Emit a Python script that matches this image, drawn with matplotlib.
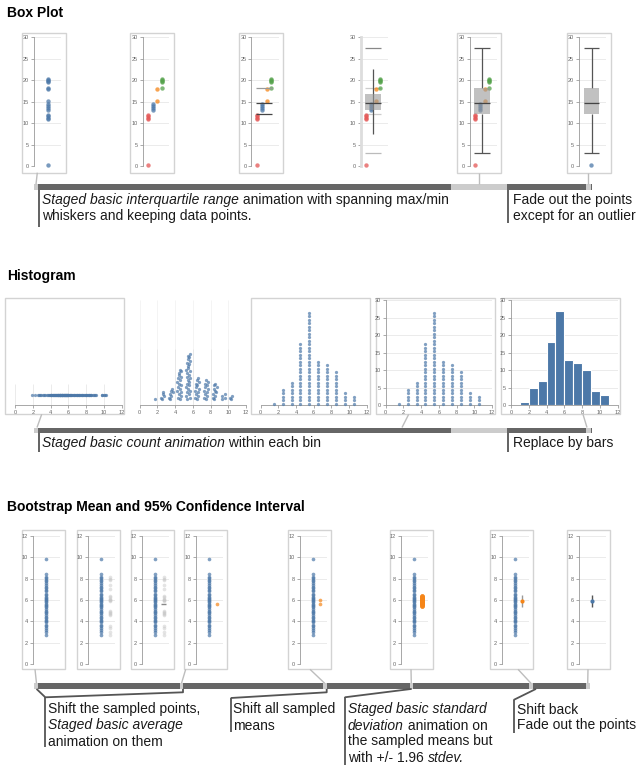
import matplotlib
matplotlib.use('Agg')
import matplotlib.pyplot as plt
from matplotlib.patches import Rectangle
import numpy as np

plt.rcParams['font.family'] = ['Liberation Sans', 'DejaVu Sans']

W, H = 638, 765

# ---------------- data ----------------
# box plot: points per group
box_red = [0.3, 11.0, 11.3, 11.6, 11.9]
box_blue = [13.0, 13.5, 14.0, 14.4]
box_orange = [15.2, 18.0]
box_green = [18.3, 19.5, 19.8, 20.0, 20.2]
box_q1, box_med, box_q3 = 12.1, 14.7, 18.3
box_lo, box_hi = 3.0, 27.5
box_mid_q = (13.2, 16.8)        # box half way through the animation
box_mid_whisk = (7.5, 22.7)

# histogram: raw values, grouped per bin (order as sampled)
hist_values = (
    [1.9]
    + [2.6, 2.3, 2.95, 2.75, 2.8]
    + [3.4, 3.1, 3.7, 3.3, 3.95, 3.55, 3.8]
    + [4.55, 4.1, 4.9, 4.3, 4.75, 4.0, 4.6, 4.2, 4.85, 4.4, 4.05, 4.7, 4.25, 4.95, 4.5, 4.35, 4.8, 4.65]
    + [5.3, 5.8, 5.05, 5.55, 5.2, 5.9, 5.45, 5.0, 5.65, 5.12, 5.75, 5.35, 5.95, 5.1, 5.6, 5.25, 5.85,
       5.02, 5.5, 5.4, 5.7, 5.15, 5.98, 5.32, 5.62, 5.52, 5.82]
    + [6.4, 6.1, 6.75, 6.2, 6.6, 6.0, 6.85, 6.3, 6.5, 6.15, 6.95, 6.35, 6.65]
    + [7.45, 7.1, 7.8, 7.25, 7.6, 7.0, 7.95, 7.35, 7.7, 7.2, 7.85, 7.5]
    + [8.3, 8.0, 8.6, 8.1, 8.75, 8.45, 8.2, 8.9, 8.35, 8.55]
    + [9.1, 9.85, 9.0, 9.75]
    + [10.15, 10.0, 10.3]
)
hist_edges = [1, 2, 3, 4, 5, 6, 7, 8, 9, 10, 11]

# bootstrap
boot_sample = [5.2, 7.4, 3.6, 6.1, 8.4, 4.4, 5.8, 2.7, 6.6, 4.9, 7.9, 3.2, 5.5, 6.9, 4.1, 9.8,
               5.0, 7.1, 3.9, 6.3, 4.6, 8.1, 5.6, 3.4, 6.0, 7.6, 4.3, 5.3, 6.8, 3.0, 7.8, 4.8,
               6.2, 5.9, 3.7, 8.2, 4.0, 6.5, 5.4, 7.2]
boot_resample = [8.2, 4.9, 6.0, 3.0, 7.4, 4.6, 6.1, 2.7, 5.0, 7.9, 4.8, 6.0, 3.4, 5.9, 7.0,
                 6.4, 6.3, 3.6, 8.0, 4.7]
boot_means = [5.6, 6.0, 5.85, 6.15, 5.7, 5.95, 6.3, 5.45, 6.05, 5.9, 5.75, 6.2, 5.4, 6.4,
              5.8, 6.1, 5.95, 5.55, 6.25, 5.85, 5.65, 6.0, 5.9, 6.35, 5.75]

BLUE, ORANGE, RED, GREEN = '#4c78a8', '#f58518', '#e45756', '#54a24b'
DARK, LIGHT, CONN, ANN = '#666666', '#cccccc', '#bdbdbd', '#555555'
TXT = 10

fig = plt.figure(figsize=(W / 100, H / 100), dpi=100)
fig.patch.set_facecolor('white')
ov = fig.add_axes([0, 0, 1, 1])
ov.set_xlim(0, W)
ov.set_ylim(H, 0)
ov.axis('off')
renderer = fig.canvas.get_renderer()


def px_axes(x0, y0, x1, y1):
    ax = fig.add_axes([x0 / W, 1 - y1 / H, (x1 - x0) / W, (y1 - y0) / H])
    ax.set_facecolor('none')
    for s in ax.spines.values():
        s.set_visible(False)
    ax.tick_params(labelsize=4, length=2.5, width=0.5, color='#888888',
                   labelcolor='#666666', pad=1)
    ax.set_xticks([])
    ax.set_yticks([])
    return ax


def frame(x, y, w, h):
    ov.add_patch(Rectangle((x, y), w, h, fill=False, ec='#d3d3d3', lw=1.0))


def yaxis(ax, ticks, color='#999999', lw=0.6, grid=True):
    ax.spines['left'].set_visible(True)
    ax.spines['left'].set_color(color)
    ax.spines['left'].set_linewidth(lw)
    ax.set_yticks(ticks)
    if grid:
        for t in ticks:
            ax.axhline(t, color='#e8e8e8', lw=0.6, zorder=0)


def xaxis(ax, ticks):
    ax.spines['bottom'].set_visible(True)
    ax.spines['bottom'].set_color('#999999')
    ax.spines['bottom'].set_linewidth(0.6)
    ax.set_xticks(ticks)


def rich(x, y, parts, size=TXT):
    for s, st in parts:
        t = ov.text(x, y, s, fontsize=size, style=st, va='baseline', ha='left', color='#1a1a1a')
        x += t.get_window_extent(renderer).width


def line(xs, ys, color=ANN, lw=1.0):
    ov.plot(xs, ys, color=color, lw=lw, solid_capstyle='butt')


def bar(y, segs, h=5.6):
    for x0, x1, c in segs:
        ov.add_patch(Rectangle((x0, y), x1 - x0, h, fc=c, ec='none'))


# ---------------- Box plot ----------------
ov.text(7, 16.5, 'Box Plot', fontsize=10, weight='bold', va='baseline')
box_frames = [21.5, 130, 239, 348, 457, 566.5]
groups = [(box_red, RED, 5.5), (box_blue, BLUE, 10.3), (box_orange, ORANGE, 15.0),
          (box_green, GREEN, 19.7)]
BOX_L, BOX_R, BOX_C = 4.7, 20.3, 12.5
bax = []
for i, fl in enumerate(box_frames):
    if i != 3:
        frame(fl, 33.3, 44, 139.4)
    ax = px_axes(fl + 12.5, 37.3, fl + 39.5, 166.3)
    ax.set_xlim(0, 27)
    ax.set_ylim(0, 30)
    if i == 3:
        yaxis(ax, range(0, 31, 5), color='#dddddd', lw=2.0)
    else:
        yaxis(ax, range(0, 31, 5))
    bax.append(ax)

pts = dict(s=10, lw=0, alpha=0.75, clip_on=False, zorder=3)
all_box = box_red + box_blue + box_orange + box_green
bax[0].scatter([13.5] * len(all_box), all_box, color=BLUE, **pts)
for ax in bax[1:5]:
    for vals, col, gx in groups:
        ax.scatter([gx] * len(vals), vals, color=col, **pts)

# panel 3: quartile lines
for v, c in [(box_q3, '#999999'), (box_med, '#444444'), (box_q1, '#444444')]:
    bax[2].hlines(v, BOX_L, BOX_R, color=c, lw=0.9, zorder=4)

# panel 4: growing box
ax = bax[3]
for v, c in [(box_hi, '#888888'), (box_q3, '#cccccc'), (box_q1, '#cccccc'), (box_lo, '#bbbbbb')]:
    ax.hlines(v, BOX_L, BOX_R, color=c, lw=0.9, zorder=2)
ax.vlines(BOX_C, box_mid_whisk[0], box_mid_whisk[1], color='#555555', lw=0.9, zorder=4)
ax.bar(BOX_C, box_mid_q[1] - box_mid_q[0], bottom=box_mid_q[0], width=BOX_R - BOX_L,
       color='#999999', alpha=0.6, zorder=5)
ax.hlines(box_med, BOX_L, BOX_R, color='#444444', lw=0.9, zorder=6)

# panels 5, 6: full box plot
for ax in bax[4:]:
    ax.bar(BOX_C, box_q3 - box_q1, bottom=box_q1, width=BOX_R - BOX_L,
           color='#999999', alpha=0.6, zorder=5)
    ax.hlines(box_med, BOX_L, BOX_R, color='#444444', lw=0.9, zorder=6)
    ax.vlines(BOX_C, box_q3, box_hi, color='#555555', lw=0.9, zorder=4)
    ax.vlines(BOX_C, box_lo, box_q1, color='#555555', lw=0.9, zorder=4)
    ax.hlines([box_lo, box_hi], BOX_L, BOX_R, color='#555555', lw=0.9, zorder=4)
bax[5].scatter([12.0], [min(box_red)], color=BLUE, **pts)

bar(184.3, [(34.3, 37.7, LIGHT), (37.7, 451, DARK), (451, 507, LIGHT), (507, 586.3, DARK),
            (586.3, 590.7, LIGHT), (590.7, 592, DARK)])
line([37.3, 36], [172.7, 184.3], CONN)
line([479.3, 479.3], [172.7, 184.3], CONN)
line([588.3, 588.3], [172.7, 184.3], CONN)
line([39.3, 39.3], [189.9, 227], ANN, 1.3)
line([508.2, 508.2], [189.9, 223], ANN, 1.3)
rich(42, 204, [('Staged basic interquartile range', 'italic'),
               (' animation with spanning max/min', 'normal')])
rich(42, 219.5, [('whiskers and keeping data points.', 'normal')])
rich(513, 204, [('Fade out the points', 'normal')])
rich(513, 219.5, [('except for an outlier', 'normal')])

# ---------------- Histogram ----------------
ov.text(7, 279.5, 'Histogram', fontsize=10, weight='bold', va='baseline')
hist_frames = [5, 129.5, 250.5, 375.5, 501]
STRIP_Y = 2.9
vals = np.array(hist_values)
centers = np.floor(vals) + 0.5
stack = np.zeros(len(vals))
counter = {}
for j, c in enumerate(centers):
    counter[c] = counter.get(c, 0) + 1
    stack[j] = counter[c] - 0.5

hax = []
for i, fl in enumerate(hist_frames):
    if i != 1:
        frame(fl, 298.3, 119, 116)
    ax = px_axes(fl + 10, 300.3, fl + 116.5, 405.3)
    ax.set_xlim(0, 12)
    ax.set_ylim(0, 30)
    xaxis(ax, range(0, 13, 2))
    hax.append(ax)

dots = dict(s=5.5, lw=0, alpha=0.7, color=BLUE, clip_on=False, zorder=3)
for t in range(0, 13, 2):
    hax[0].vlines(t, 0, 6, color='#e8e8e8', lw=0.6, zorder=0)
    hax[1].vlines(t, 0, 30, color='#f2f2f2', lw=0.6, zorder=0)
    hax[1].vlines(t, 0, 16, color='#e6e6e6', lw=0.6, zorder=0)
hax[0].scatter(vals, np.full(len(vals), STRIP_Y), **dots)
hax[1].scatter((vals + centers) / 2, (STRIP_Y + stack) / 2, **dots)
hax[2].scatter(centers, stack, **dots)
for ax in hax[3:]:
    yaxis(ax, range(0, 31, 5))
hax[3].scatter(centers, stack, **dots)
hax[4].hist(vals, bins=hist_edges, color=BLUE, ec='white', lw=0.8, zorder=3)

bar(427.5, [(34.3, 37.7, LIGHT), (37.7, 451, DARK), (451, 507, LIGHT), (507, 586.3, DARK),
            (586.3, 590.7, LIGHT), (590.7, 592, DARK)])
line([41.7, 37], [414.3, 427.5], CONN)
line([408.7, 402], [414.3, 427.5], CONN)
line([583, 587], [414.3, 427.5], CONN)
line([39.3, 39.3], [433, 451.7], ANN, 1.3)
line([508.2, 508.2], [433, 452], ANN, 1.3)
rich(42, 446.7, [('Staged basic count animation', 'italic'), (' within each bin', 'normal')])
rich(513, 446.7, [('Replace by bars', 'normal')])

# ---------------- Bootstrap ----------------
ov.text(7, 511, 'Bootstrap Mean and 95% Confidence Interval', fontsize=10, weight='bold',
        va='baseline')
boot_frames = [21.7, 76.7, 130.7, 184.3, 288.3, 389.7, 490.3, 567.3]
tax = []
for fl in boot_frames:
    frame(fl, 530, 43, 139.3)
    ax = px_axes(fl + 11.2, 536, fl + 38.2, 664)
    ax.set_xlim(0, 27)
    ax.set_ylim(0, 12)
    yaxis(ax, range(0, 13, 2))
    tax.append(ax)

bp = dict(s=7, lw=0, alpha=0.7, clip_on=False, zorder=3)
for ax in tax[:7]:
    ax.scatter([13] * len(boot_sample), boot_sample, color=BLUE, **bp)
for ax in tax[1:3]:
    ax.scatter([21.7] * len(boot_resample), boot_resample, color='#c4c4c4', s=7, lw=0,
               alpha=0.45, zorder=3)
res_mean = np.mean(boot_resample)
tax[2].hlines(res_mean, 18.7, 24.4, color='#888888', lw=1.0, zorder=4)
tax[3].scatter([21], [res_mean], color=ORANGE, **bp)
tax[4].scatter([20.2] * 2, boot_means[:2], color=ORANGE, **bp)
tax[5].scatter([20.7] * len(boot_means), boot_means, color=ORANGE, s=11, lw=0, alpha=0.8,
               zorder=3)
m = np.mean(boot_means)
sd = np.std(boot_means)
tax[6].vlines(20.3, m - 1.96 * sd, m + 1.96 * sd, color='#999999', lw=1.0, zorder=3)
tax[6].scatter([20.3], [m], color=ORANGE, s=9, lw=0, zorder=4)
tax[7].vlines(13.3, m - 1.96 * sd, m + 1.96 * sd, color='#555555', lw=1.0, zorder=3)
tax[7].scatter([13.3], [m], color=BLUE, s=9, lw=0, zorder=4)

by = 683.3
bar(by, [(37.7, 590, DARK)])
for cx in [36, 181.5, 324.7, 411.3, 531, 587.7]:
    bar(by, [(cx - 1.8, cx + 1.8, LIGHT)])
line([35, 36.5], [669.3, by], CONN)
line([185.7, 181.5], [669.3, by], CONN)
line([310, 324.7], [669.3, by], CONN)
line([411, 411.3], [669.3, by], CONN)
line([518, 531], [669.3, by], CONN)
line([588, 587.7], [669.3, by], CONN)

bb = by + 5.6
line([36.5, 45.3, 183, 183], [bb, 697.3, 692.3, bb], ANN, 1.3)
line([45.3, 45.3], [697.3, 747], ANN, 1.3)
line([230.7, 326.7, 326.7], [698, 692.3, bb], ANN, 1.3)
line([230.7, 230.7], [698, 732], ANN, 1.3)
line([344.7, 411.7], [697.3, bb], ANN, 1.3)
line([344.7, 344.7], [697.3, 765], ANN, 1.3)
line([513.5, 536], [700, bb], ANN, 1.3)
line([513.5, 513.5], [700, 733], ANN, 1.3)

B = [713.5, 729.5, 745.5, 761.5]
rich(48, B[0], [('Shift the sampled points,', 'normal')])
rich(48, B[1], [('Staged basic average', 'italic')])
rich(48, B[2], [('animation on them', 'normal')])
rich(233, B[0], [('Shift all sampled', 'normal')])
rich(233, B[1], [('means', 'normal')])
rich(348, B[0], [('Staged basic standard', 'italic')])
rich(348, B[1], [('deviation', 'italic'), (' animation on', 'normal')])
rich(348, B[2], [('the sampled means but', 'normal')])
rich(348, B[3], [('with +/- 1.96 ', 'normal'), ('stdev.', 'italic')])
rich(517, B[0], [('Shift back', 'normal')])
rich(517, B[1], [('Fade out the points', 'normal')])

fig.savefig('out.png', dpi=100, facecolor='white')
